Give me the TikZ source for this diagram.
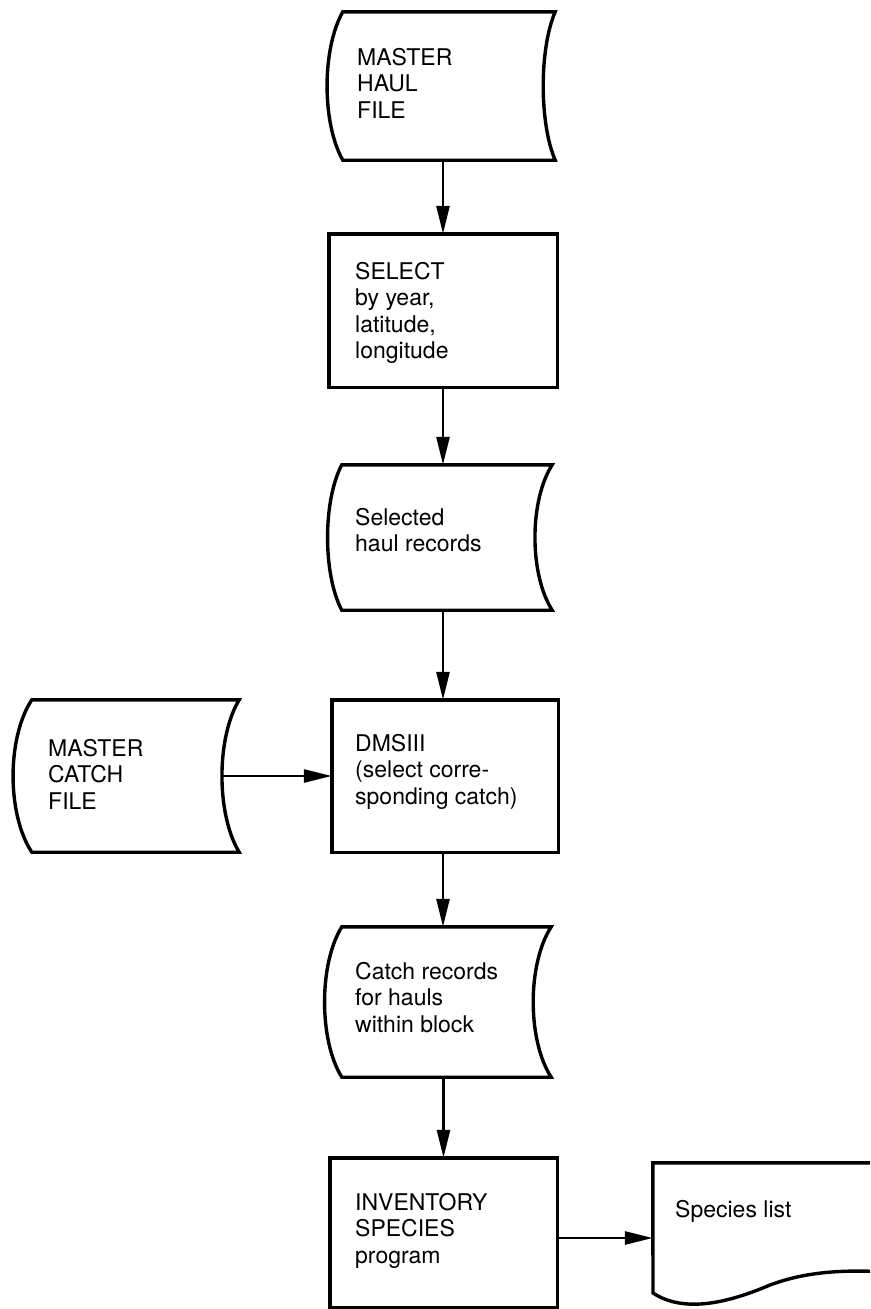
\documentclass[tikz,border=0pt]{standalone}
\usepackage{fontspec}
\setmainfont{TeX Gyre Heros}
\usetikzlibrary{arrows.meta}
\tikzset{
  outline/.style={line width=3.4pt, line join=miter, line cap=butt},
  hidebox/.style={draw=none, rectangle, inner sep=0pt},
  flow/.style={line width=2.8pt, -{Triangle[length=28pt,width=13pt]}},
  txt/.style={anchor=base west, inner sep=0pt, align=left,
    font=\fontsize{23}{26.5}\selectfont},
}
\begin{document}
\begin{tikzpicture}[x=1pt,y=-1pt]
\useasboundingbox (0,0) rectangle (870,1309);
\clip (0,0) rectangle (870,1309);
\fill[white] (0,0) rectangle (870,1309);

% MASTER HAUL FILE (stored data)
\node[hidebox, minimum width=212pt, minimum height=148pt] (haul) at (449,86) {};
\draw[outline] (haul.north west) -- (haul.north east)
  .. controls +(-16,37) and +(-16,-37) .. (haul.south east)
  -- (haul.south west)
  .. controls +(-21,-37) and +(-21,37) .. cycle;
% text anchors sit on the baseline of the last line
\node[txt] (haultxt) at (357,118) {MASTER\\HAUL\\FILE};

% SELECT
\node[hidebox, minimum width=228pt, minimum height=153pt] (select) at (443,310.5) {};
\draw[outline] (select.north west) rectangle (select.south east);
\node[txt] (selecttxt) at (355,358.5) {SELECT\\by year,\\latitude,\\longitude};

% Selected haul records
\node[hidebox, minimum width=210pt, minimum height=145pt] (selrec) at (447,537.5) {};
\draw[outline] (selrec.north west) -- (selrec.north east)
  .. controls +(-23,36) and +(-23,-36) .. (selrec.south east)
  -- (selrec.south west)
  .. controls +(-19,-36) and +(-19,36) .. cycle;
\node[txt] (selrectxt) at (355,551.5) {Selected\\haul records};

% MASTER CATCH FILE
\node[hidebox, minimum width=207pt, minimum height=152pt] (mcatch) at (135.5,776) {};
\draw[outline] (mcatch.north west) -- (mcatch.north east)
  .. controls +(-23,38) and +(-23,-38) .. (mcatch.south east)
  -- (mcatch.south west)
  .. controls +(-25,-38) and +(-25,38) .. cycle;
\node[txt] (mcatchtxt) at (48,809) {MASTER\\CATCH\\FILE};

% DMSIII
\node[hidebox, minimum width=226pt, minimum height=152pt] (dms) at (445,776) {};
\draw[outline] (dms.north west) rectangle (dms.south east);
\node[txt] (dmstxt) at (355,804) {DMSIII\\(select corre-\\sponding catch)};

% Catch records
\node[hidebox, minimum width=209pt, minimum height=150pt] (catchrec) at (446.5,1002) {};
\draw[outline] (catchrec.north west) -- (catchrec.north east)
  .. controls +(-24,37) and +(-24,-37) .. (catchrec.south east)
  -- (catchrec.south west)
  .. controls +(-23,-37) and +(-23,37) .. cycle;
\node[txt] (catchrectxt) at (355,1032) {Catch records\\for hauls\\within block};

% INVENTORY SPECIES program
\node[hidebox, minimum width=227pt, minimum height=149pt] (inv) at (443.5,1232.5) {};
\draw[outline] (inv.north west) rectangle (inv.south east);
\node[txt] (invtxt) at (355,1263) {INVENTORY\\SPECIES\\program};

% Species list (document)
\node[hidebox, minimum width=227pt, minimum height=150pt] (species) at (766.5,1238) {};
\draw[outline] (species.north east) -- (species.north west) -- (653,1293)
  .. controls (685,1314) and (730,1302) .. (770,1285)
  .. controls (810,1270) and (850,1270) .. (890,1272);
\node[txt] (speciestxt) at (675,1217) {Species list};

% connectors
\draw[flow] (select.north |- haul.south) -- (select.north);
\draw[flow] (select.south) -- (select.south |- selrec.north);
\draw[flow] (select.south |- selrec.south) -- (select.south |- dms.north);
\draw[flow] ([xshift=-17pt]mcatch.east) -- (dms.west);
\draw[flow] (select.south |- dms.south) -- (select.south |- catchrec.north);
\draw[flow] (inv.north |- catchrec.south) -- (inv.north);
\draw[flow] (species.west -| inv.east) -- (species.west);
\end{tikzpicture}
\end{document}
